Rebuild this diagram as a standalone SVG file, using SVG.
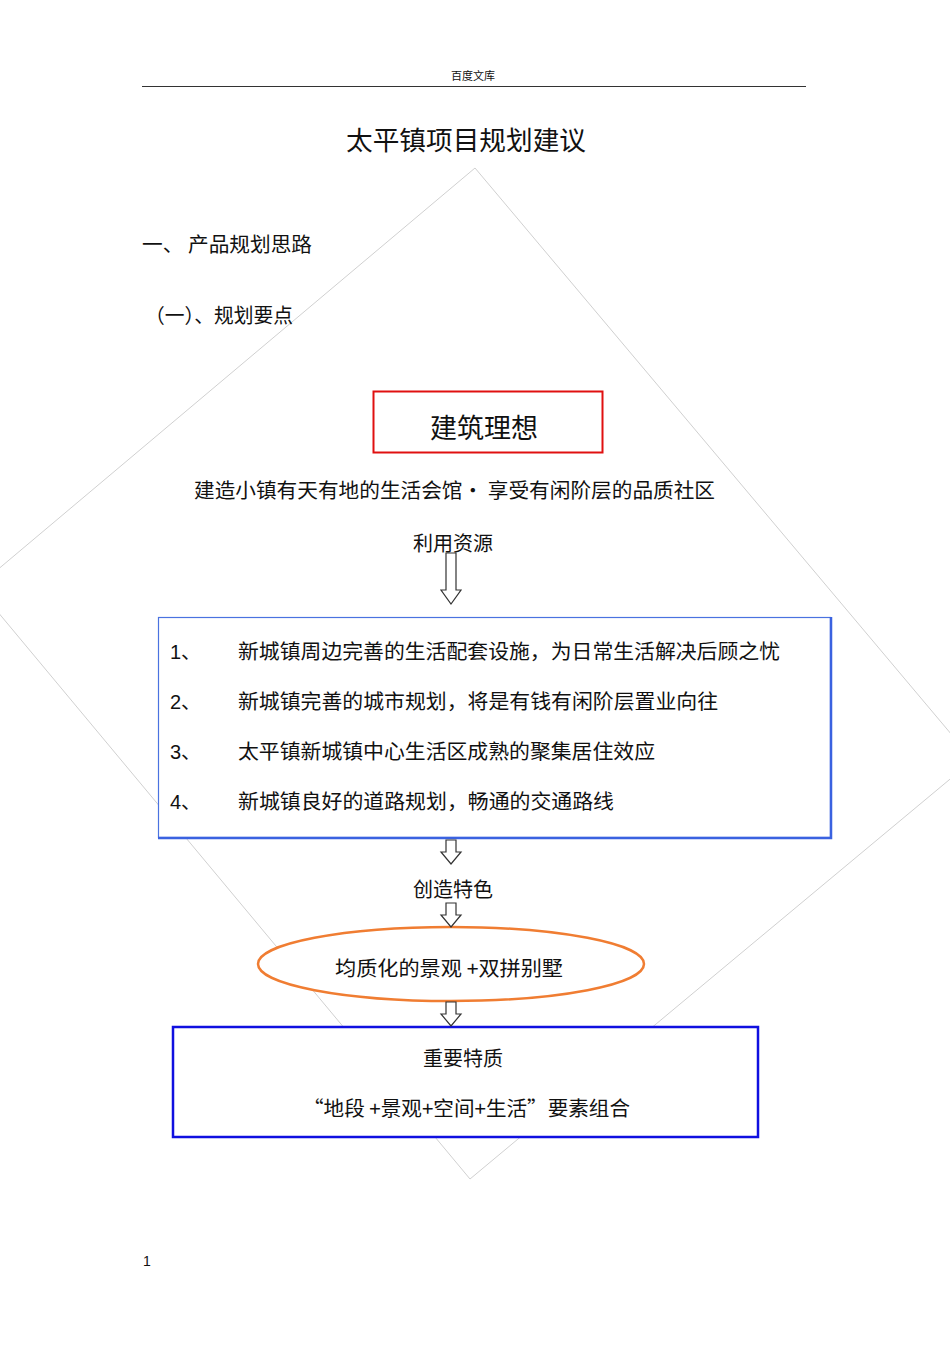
<svg xmlns="http://www.w3.org/2000/svg" width="950" height="1345" viewBox="0 0 950 1345">
<style>
.t{font-family:"Noto Sans CJK SC","Liberation Sans",sans-serif;fill:#111;}
.n{font-family:"Liberation Sans","Noto Sans CJK SC",sans-serif;fill:#111;}
.arrow{fill:#fff;stroke:#333;stroke-width:1.2;stroke-linejoin:miter;}
</style>
<rect width="950" height="1345" fill="#fff"/>
<g id="watermark">
<polygon points="475,168 973,760 470,1179 -23,587" fill="none" stroke="#d0d0d0" stroke-width="1"/>
</g>
<g id="header">
<text class="t" x="473" y="80" font-size="11" text-anchor="middle" fill="#333">百度文库</text>
<line x1="142" y1="86.5" x2="806" y2="86.5" stroke="#333" stroke-width="1"/>
</g>
<g id="title">
<text class="t" x="346" y="150" font-size="26" textLength="240" lengthAdjust="spacingAndGlyphs">太平镇项目规划建议</text>
</g>
<g id="heading1">
<text class="t" x="142" y="252" font-size="20" textLength="170" lengthAdjust="spacingAndGlyphs">一、 产品规划思路</text>
</g>
<g id="heading2">
<text class="t" x="145" y="323" font-size="20" textLength="148" lengthAdjust="spacingAndGlyphs">（一）、规划要点</text>
</g>
<g id="node-ideal">
<rect x="373.5" y="391.5" width="229" height="61" fill="#fff" stroke="#e01010" stroke-width="2"/>
<text class="t" x="484" y="438" font-size="27" text-anchor="middle">建筑理想</text>
</g>
<g id="node-slogan">
<text class="t" x="194" y="498" font-size="20" textLength="521" lengthAdjust="spacingAndGlyphs">建造小镇有天有地的生活会馆· 享受有闲阶层的品质社区</text>
</g>
<g id="node-resource">
<text class="t" x="453" y="551" font-size="20" text-anchor="middle">利用资源</text>
</g>
<g id="node-list">
<rect x="158.5" y="617.5" width="672" height="220" fill="#fff" stroke="#4a72e0" stroke-width="1.2"/>
<polyline points="158,838 831,838 831,617" fill="none" stroke="#3a62e0" stroke-width="2.5"/>
<text class="n" x="170" y="659" font-size="20">1、</text>
<text class="t" x="238" y="659" font-size="20" textLength="542" lengthAdjust="spacingAndGlyphs">新城镇周边完善的生活配套设施，为日常生活解决后顾之忧</text>
<text class="n" x="170" y="709" font-size="20">2、</text>
<text class="t" x="238" y="709" font-size="20" textLength="480" lengthAdjust="spacingAndGlyphs">新城镇完善的城市规划，将是有钱有闲阶层置业向往</text>
<text class="n" x="170" y="759" font-size="20">3、</text>
<text class="t" x="238" y="759" font-size="20" textLength="417" lengthAdjust="spacingAndGlyphs">太平镇新城镇中心生活区成熟的聚集居住效应</text>
<text class="n" x="170" y="809" font-size="20">4、</text>
<text class="t" x="238" y="809" font-size="20" textLength="376" lengthAdjust="spacingAndGlyphs">新城镇良好的道路规划，畅通的交通路线</text>
</g>
<g id="node-feature">
<text class="t" x="453" y="897" font-size="20" text-anchor="middle">创造特色</text>
</g>
<g id="node-ellipse">
<ellipse cx="451" cy="964" rx="193" ry="37" fill="#fff" stroke="#f07d32" stroke-width="2.5"/>
<text class="t" x="335" y="976" font-size="20" textLength="228" lengthAdjust="spacingAndGlyphs">均质化的景观 +双拼别墅</text>
</g>
<g id="node-quality">
<rect x="173" y="1027" width="585" height="110" fill="#fff" stroke="#1010e0" stroke-width="2.5"/>
<text class="t" x="463" y="1066" font-size="20" text-anchor="middle">重要特质</text>
<text class="t" x="303" y="1116" font-size="20" textLength="327" lengthAdjust="spacingAndGlyphs">“地段 +景观+空间+生活”要素组合</text>
</g>
<g id="connectors">
<path class="arrow" d="M446,553 H456 V590 H461 L451,604 L441,590 H446 Z"/>
<path class="arrow" d="M446,840 H456 V852 H461 L451,864 L441,852 H446 Z"/>
<path class="arrow" d="M446,903 H456 V915 H461 L451,927 L441,915 H446 Z"/>
<path class="arrow" d="M446,1002 H456 V1014 H461 L451,1026 L441,1014 H446 Z"/>
</g>
<g id="footer">
<text class="n" x="143" y="1266" font-size="14">1</text>
</g>
</svg>
